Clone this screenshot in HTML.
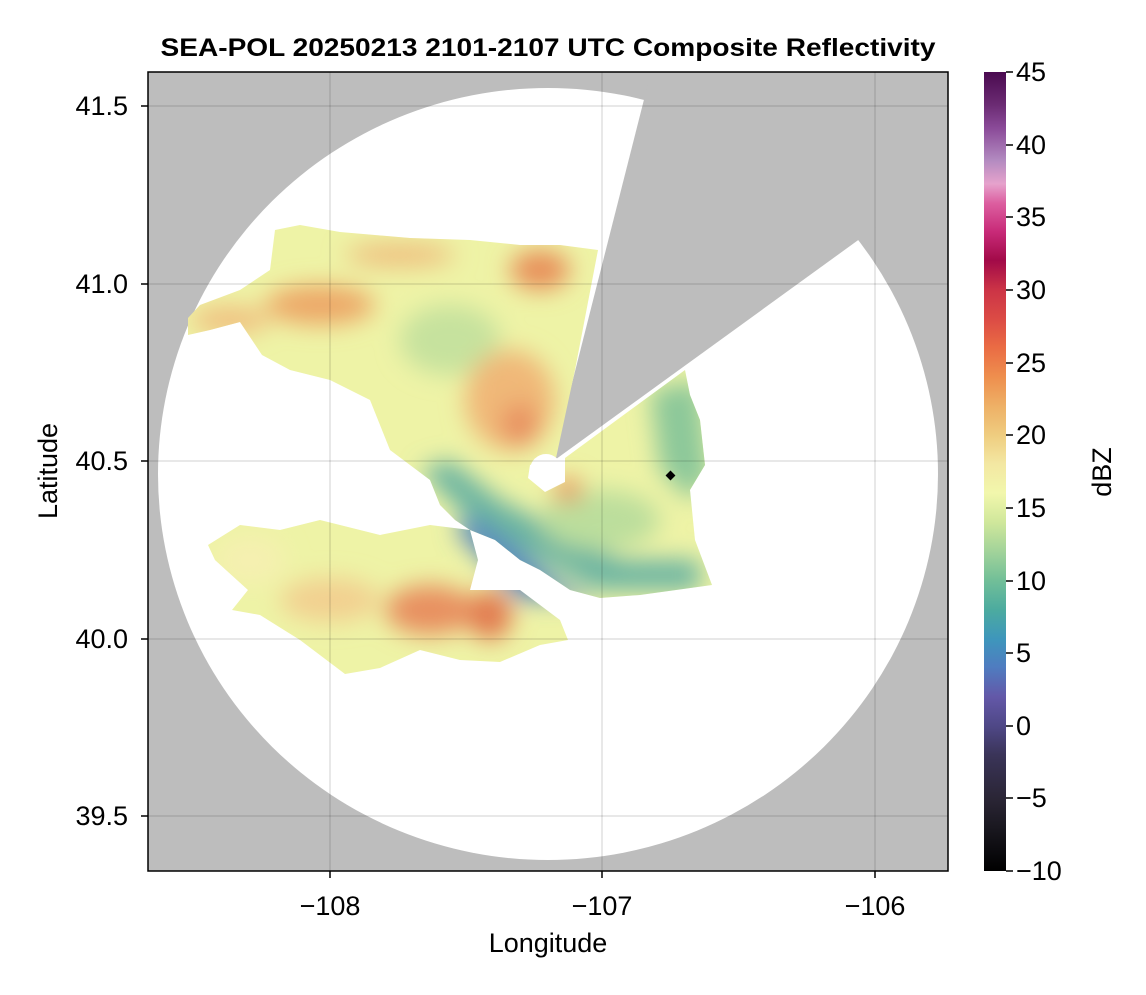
<!DOCTYPE html>
<html><head><meta charset="utf-8"><style>
body{margin:0;background:#fff;}
svg text{font-family:"Liberation Sans",Arial,sans-serif;fill:#000;}
</style></head><body>
<svg width="1146" height="990" viewBox="0 0 1146 990" xmlns="http://www.w3.org/2000/svg">
<defs>
<clipPath id="pc"><rect x="148" y="72" width="800" height="799"/></clipPath>
<clipPath id="ec">
<path d="M188,318 L200,305 L240,290 L270,270 L275,230 L300,225 L340,232 L410,238 L470,240 L520,245 L560,245 L598,250 L575,370 L556,458 L530,465 L528,478 L545,492 L565,482 L565,458 L685,370 L690,395 L700,420 L705,465 L690,490 L695,540 L712,585 L640,595 L600,598 L570,590 L540,570 L520,560 L495,540 L470,530 L455,520 L440,505 L430,480 L390,450 L370,400 L330,380 L290,370 L262,355 L240,322 L210,330 L188,335 Z
M208,545 L240,525 L280,530 L320,520 L380,535 L430,525 L470,530 L478,560 L470,590 L520,590 L560,620 L568,640 L540,645 L500,662 L460,660 L420,650 L380,668 L345,674 L300,640 L260,615 L232,610 L248,590 L215,560 Z"/>
</clipPath>
<filter id="bl" x="-50%" y="-50%" width="200%" height="200%"><feGaussianBlur stdDeviation="12"/></filter>
<linearGradient id="cb" x1="0" y1="1" x2="0" y2="0">
<stop offset="0" stop-color="#000"/>
<stop offset="0.055" stop-color="#1a1820"/>
<stop offset="0.09" stop-color="#2a2535"/>
<stop offset="0.145" stop-color="#3a3458"/>
<stop offset="0.18" stop-color="#4e4785"/>
<stop offset="0.218" stop-color="#6358a8"/>
<stop offset="0.255" stop-color="#4f7cc0"/>
<stop offset="0.29" stop-color="#3e96bc"/>
<stop offset="0.327" stop-color="#4cab9f"/>
<stop offset="0.364" stop-color="#72bf98"/>
<stop offset="0.4" stop-color="#a2d39a"/>
<stop offset="0.436" stop-color="#cfe79b"/>
<stop offset="0.473" stop-color="#f2f7ac"/>
<stop offset="0.51" stop-color="#f3e7a2"/>
<stop offset="0.545" stop-color="#efcd80"/>
<stop offset="0.582" stop-color="#eeb066"/>
<stop offset="0.618" stop-color="#ee8f4e"/>
<stop offset="0.655" stop-color="#ea6c44"/>
<stop offset="0.69" stop-color="#dc4c45"/>
<stop offset="0.727" stop-color="#cc3446"/>
<stop offset="0.764" stop-color="#a20a48"/>
<stop offset="0.8" stop-color="#c82a78"/>
<stop offset="0.836" stop-color="#dc5fa0"/>
<stop offset="0.86" stop-color="#e6a2cc"/>
<stop offset="0.89" stop-color="#b28ac0"/>
<stop offset="0.93" stop-color="#8a4a98"/>
<stop offset="0.96" stop-color="#6a2a72"/>
<stop offset="1" stop-color="#4a0a50"/>
</linearGradient>
</defs>
<rect x="148" y="72" width="800" height="799" fill="#bdbdbd"/>
<g clip-path="url(#pc)">
<ellipse cx="548" cy="474" rx="390" ry="386" fill="#fff"/>
<polygon points="552,462 651,72 948,72 948,175" fill="#bdbdbd"/>
<g clip-path="url(#ec)">
<rect x="148" y="200" width="600" height="500" fill="#eef3a6"/>
<g filter="url(#bl)">
<path d="M420,470 L470,520 L540,560 L600,590 L700,590 L700,560 L620,560 L560,530 L500,500 L450,460 Z" fill="#6ab4a2"/>
<path d="M470,515 L520,550 L560,585 L600,598 L520,600 L455,530 Z" fill="#5a88c0"/>
<path d="M650,390 L700,380 L710,480 L690,500 L660,470 Z" fill="#8cc89a"/>
<ellipse cx="600" cy="520" rx="60" ry="30" fill="#bcde9c"/>
<ellipse cx="450" cy="340" rx="50" ry="35" fill="#c6e29e"/>
<ellipse cx="320" cy="305" rx="55" ry="20" fill="#eda868"/>
<ellipse cx="230" cy="320" rx="40" ry="14" fill="#f0c080"/>
<ellipse cx="400" cy="255" rx="55" ry="12" fill="#efc080"/>
<ellipse cx="540" cy="270" rx="30" ry="20" fill="#e8905a"/>
<ellipse cx="510" cy="400" rx="45" ry="50" fill="#f0b878"/>
<ellipse cx="520" cy="425" rx="18" ry="22" fill="#e89060"/>
<ellipse cx="568" cy="490" rx="14" ry="12" fill="#e8905a"/>
<ellipse cx="430" cy="610" rx="45" ry="25" fill="#e89060"/>
<ellipse cx="490" cy="615" rx="22" ry="25" fill="#e27a50"/>
<ellipse cx="330" cy="600" rx="50" ry="22" fill="#f2d090"/>
<ellipse cx="250" cy="560" rx="35" ry="25" fill="#f5f0b0"/>
</g>
</g>
<circle cx="546" cy="470" r="16" fill="#fff"/>
<rect x="667" y="472" width="7" height="7" fill="#000" transform="rotate(45 670.5 475.5)"/>
</g>
<g stroke="#000" stroke-opacity="0.12" stroke-width="1.5">
<line x1="330" y1="72" x2="330" y2="871"/><line x1="602" y1="72" x2="602" y2="871"/><line x1="875" y1="72" x2="875" y2="871"/>
<line x1="148" y1="106" x2="948" y2="106"/><line x1="148" y1="284" x2="948" y2="284"/><line x1="148" y1="461" x2="948" y2="461"/><line x1="148" y1="639" x2="948" y2="639"/><line x1="148" y1="816" x2="948" y2="816"/>
</g>
<rect x="148" y="72" width="800" height="799" fill="none" stroke="#000" stroke-width="1.5"/>
<g stroke="#000" stroke-width="1.5">
<line x1="330" y1="871" x2="330" y2="878"/><line x1="602" y1="871" x2="602" y2="878"/><line x1="875" y1="871" x2="875" y2="878"/>
<line x1="141" y1="106" x2="148" y2="106"/><line x1="141" y1="284" x2="148" y2="284"/><line x1="141" y1="461" x2="148" y2="461"/><line x1="141" y1="639" x2="148" y2="639"/><line x1="141" y1="816" x2="148" y2="816"/>
</g>
<g font-size="27" text-anchor="middle">
<text x="330" y="915">−108</text><text x="602" y="915">−107</text><text x="875" y="915">−106</text>
</g>
<g font-size="27" text-anchor="end">
<text x="128" y="115">41.5</text><text x="128" y="293">41.0</text><text x="128" y="470">40.5</text><text x="128" y="648">40.0</text><text x="128" y="825">39.5</text>
</g>
<text x="548" y="952" font-size="27" text-anchor="middle">Longitude</text>
<text x="57" y="471" font-size="27" text-anchor="middle" transform="rotate(-90 57 471)">Latitude</text>
<text x="548" y="56" font-size="25" font-weight="bold" text-anchor="middle" textLength="775" lengthAdjust="spacingAndGlyphs">SEA-POL 20250213 2101-2107 UTC Composite Reflectivity</text>
<rect x="984" y="72" width="22" height="799" fill="url(#cb)"/>
<g stroke="#000" stroke-width="1.5">
<line x1="1006" y1="72" x2="1013" y2="72"/><line x1="1006" y1="145" x2="1013" y2="145"/><line x1="1006" y1="217" x2="1013" y2="217"/><line x1="1006" y1="290" x2="1013" y2="290"/><line x1="1006" y1="363" x2="1013" y2="363"/><line x1="1006" y1="435" x2="1013" y2="435"/><line x1="1006" y1="508" x2="1013" y2="508"/><line x1="1006" y1="581" x2="1013" y2="581"/><line x1="1006" y1="653" x2="1013" y2="653"/><line x1="1006" y1="726" x2="1013" y2="726"/><line x1="1006" y1="798" x2="1013" y2="798"/><line x1="1006" y1="871" x2="1013" y2="871"/>
</g>
<g font-size="27">
<text x="1016" y="81">45</text><text x="1016" y="154">40</text><text x="1016" y="226">35</text><text x="1016" y="299">30</text><text x="1016" y="372">25</text><text x="1016" y="444">20</text><text x="1016" y="517">15</text><text x="1016" y="590">10</text><text x="1016" y="662">5</text><text x="1016" y="735">0</text><text x="1016" y="807">−5</text><text x="1016" y="880">−10</text>
</g>
<text x="1111" y="472" font-size="27" text-anchor="middle" transform="rotate(-90 1111 472)">dBZ</text>
</svg>
</body></html>
